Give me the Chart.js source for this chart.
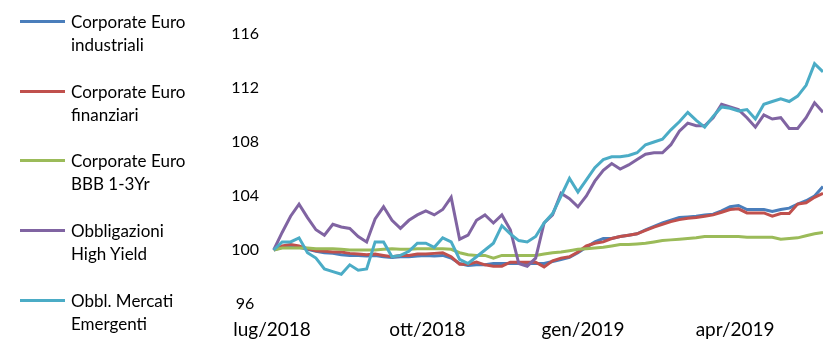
<!DOCTYPE html>
<html lang="it">
<head>
<meta charset="utf-8">
<title>Indici obbligazionari</title>
<script src="https://cdn.jsdelivr.net/npm/chart.js@4.4.1/dist/chart.umd.min.js"></script>
<style>
    html, body { margin: 0; padding: 0; background: #fff; }
    #box { position: relative; width: 823px; height: 341px; overflow: hidden; }
    #grafico { position: absolute; left: 0; top: 0; }
    .voce { position: absolute; left: 0; }
    .voce .linea { position: absolute; left: 20px; top: -2px; width: 45px; height: 3px; }
    .voce .testo { position: absolute; left: 71px; top: -12px; width: 140px;
        font: 17px Lato, sans-serif; line-height: 23px; color: #000; white-space: nowrap; }
</style>
</head>
<body>
<div id="box">
    <canvas id="grafico" width="823" height="341"></canvas>
    <div id="legenda"></div>
</div>
<script>
// date di rilevazione (ogni 5 giorni)
const date = [
    "2018-07-02","2018-07-07","2018-07-12","2018-07-17","2018-07-22","2018-07-27",
    "2018-08-01","2018-08-06","2018-08-11","2018-08-16","2018-08-21","2018-08-26","2018-08-31",
    "2018-09-05","2018-09-10","2018-09-15","2018-09-20","2018-09-25","2018-09-30",
    "2018-10-05","2018-10-10","2018-10-15","2018-10-20","2018-10-25","2018-10-30",
    "2018-11-04","2018-11-09","2018-11-14","2018-11-19","2018-11-24","2018-11-29",
    "2018-12-04","2018-12-09","2018-12-14","2018-12-19","2018-12-24","2018-12-29",
    "2019-01-03","2019-01-08","2019-01-13","2019-01-18","2019-01-23","2019-01-28",
    "2019-02-02","2019-02-07","2019-02-12","2019-02-17","2019-02-22","2019-02-27",
    "2019-03-04","2019-03-09","2019-03-14","2019-03-19","2019-03-24","2019-03-29",
    "2019-04-03","2019-04-08","2019-04-13","2019-04-18","2019-04-23","2019-04-28",
    "2019-05-03","2019-05-08","2019-05-13","2019-05-18","2019-05-23"
];

const industriali = [
    100.0,100.2,100.3,100.2,100.05,99.9,99.8,99.75,99.65,99.6,99.6,99.55,99.6,
    99.5,99.45,99.5,99.5,99.55,99.6,99.55,99.6,99.4,99.0,98.85,98.9,
    98.9,99.0,99.0,99.0,99.0,99.0,99.0,99.0,99.15,99.3,99.45,99.8,
    100.2,100.6,100.85,100.85,101.0,101.1,101.2,101.5,101.75,102.0,102.2,102.4,
    102.45,102.5,102.6,102.65,102.9,103.2,103.3,103.0,103.0,103.0,102.85,103.0,
    103.1,103.4,103.65,104.0,104.7
];
const finanziari = [
    100.0,100.3,100.4,100.3,100.1,99.95,99.9,99.85,99.85,99.75,99.7,99.65,99.7,
    99.6,99.5,99.6,99.6,99.7,99.7,99.75,99.8,99.5,98.95,98.95,99.1,
    98.9,98.8,98.8,99.1,99.1,99.1,99.1,98.75,99.2,99.4,99.5,99.85,
    100.3,100.5,100.6,100.85,101.0,101.1,101.2,101.45,101.7,101.9,102.1,102.25,
    102.35,102.4,102.5,102.6,102.8,103.0,103.05,102.75,102.75,102.75,102.5,102.7,
    102.7,103.4,103.5,103.9,104.2
];
const bbb13 = [
    100.0,100.15,100.15,100.15,100.15,100.1,100.1,100.1,100.05,100.0,100.0,100.0,100.0,
    100.05,100.1,100.05,100.05,100.1,100.1,100.1,100.1,100.05,99.8,99.65,99.6,
    99.6,99.4,99.6,99.6,99.6,99.6,99.6,99.7,99.8,99.85,99.95,100.05,
    100.1,100.15,100.2,100.3,100.4,100.4,100.45,100.5,100.6,100.7,100.75,100.8,
    100.85,100.9,101.0,101.0,101.0,101.0,101.0,100.95,100.95,100.95,100.95,100.8,
    100.85,100.9,101.05,101.2,101.3
];
const highYield = [
    100.0,101.3,102.5,103.4,102.4,101.5,101.1,101.9,101.7,101.6,101.0,100.6,102.3,
    103.2,102.2,101.6,102.2,102.6,102.9,102.6,103.0,103.9,100.8,101.1,102.2,
    102.6,102.0,102.6,101.5,99.0,98.8,99.4,102.0,102.6,104.2,103.8,103.2,
    104.0,105.1,105.9,106.4,106.0,106.3,106.7,107.1,107.2,107.2,107.8,108.8,
    109.4,109.2,109.2,109.8,110.8,110.6,110.4,109.8,109.1,110.0,109.7,109.8,
    109.0,109.0,109.8,110.9,110.2
];
const emergenti = [
    100.0,100.6,100.6,100.9,99.8,99.4,98.6,98.4,98.2,98.9,98.5,98.6,100.6,
    100.6,99.5,99.6,99.9,100.5,100.5,100.2,100.9,100.6,99.3,99.0,99.5,
    100.0,100.5,101.8,101.2,100.7,100.6,101.0,102.0,102.7,104.0,105.3,104.3,
    105.2,106.1,106.7,106.9,106.9,107.0,107.2,107.8,108.0,108.2,108.9,109.5,
    110.2,109.6,109.1,109.9,110.6,110.5,110.3,110.4,109.7,110.8,111.0,111.2,
    111.0,111.4,112.2,113.8,113.2
];

const nomi = [
    ["Corporate Euro", "industriali"],
    ["Corporate Euro", "finanziari"],
    ["Corporate Euro", "BBB 1-3Yr"],
    ["Obbligazioni", "High Yield"],
    ["Obbl. Mercati", "Emergenti"]
];
const colori = ["#4a7ebb", "#c0504d", "#9bbb59", "#8064a2", "#4bacc6"];

const dateTick = ["2018-07-01", "2018-10-01", "2019-01-01", "2019-04-01"];
const etichetteTick = ["lug/2018", "ott/2018", "gen/2019", "apr/2019"];

// giorni trascorsi dal 1 luglio 2018
const inizio = Date.UTC(2018, 6, 1);
function giorni(s) {
    const p = s.split("-");
    return Math.round((Date.UTC(+p[0], +p[1] - 1, +p[2]) - inizio) / 86400000);
}
const xGiorni = date.map(giorni);
const xTick = dateTick.map(giorni);

function punti(valori) {
    return valori.map((v, i) => ({ x: xGiorni[i], y: v }));
}

const serie = [industriali, finanziari, bbb13, highYield, emergenti];
const datasets = serie.map((s, i) => ({
    label: nomi[i].join(" "),
    data: punti(s),
    borderColor: colori[i],
    backgroundColor: colori[i],
    borderWidth: 3,
    pointRadius: 0,
    tension: 0,
    order: serie.length - i
}));

new Chart(document.getElementById("grafico"), {
    type: "line",
    data: { datasets: datasets },
    options: {
        responsive: false,
        animation: false,
        devicePixelRatio: 1,
        layout: { padding: { left: 212, top: 34, right: 0, bottom: 0 } },
        plugins: {
            legend: { display: false },
            tooltip: { enabled: false }
        },
        scales: {
            x: {
                type: "linear",
                min: 0,
                max: 326,
                grid: { display: false, drawTicks: false },
                border: { display: false },
                afterBuildTicks: scale => {
                    scale.ticks = xTick.map(v => ({ value: v }));
                },
                afterFit: scale => { scale.height = 37; },
                ticks: {
                    autoSkip: false,
                    maxRotation: 0,
                    padding: 14,
                    color: "#000",
                    font: { family: "Lato", size: 19 },
                    callback: v => etichetteTick[xTick.indexOf(v)]
                }
            },
            y: {
                min: 96,
                max: 116,
                grid: { display: false, drawTicks: false },
                border: { display: false },
                afterFit: scale => { scale.width = 60; },
                ticks: {
                    stepSize: 4,
                    padding: 13,
                    crossAlign: "center",
                    color: "#000",
                    font: { family: "Lato", size: 16 }
                }
            }
        }
    }
});

// legenda a sinistra, su due righe per voce
const legenda = document.getElementById("legenda");
nomi.forEach((n, i) => {
    const voce = document.createElement("div");
    voce.className = "voce";
    voce.style.top = (22 + i * 69.7) + "px";
    voce.innerHTML = '<div class="linea" style="background:' + colori[i] + '"></div>' +
        '<div class="testo">' + n[0] + '<br>' + n[1] + '</div>';
    legenda.appendChild(voce);
});
</script>
</body>
</html>
